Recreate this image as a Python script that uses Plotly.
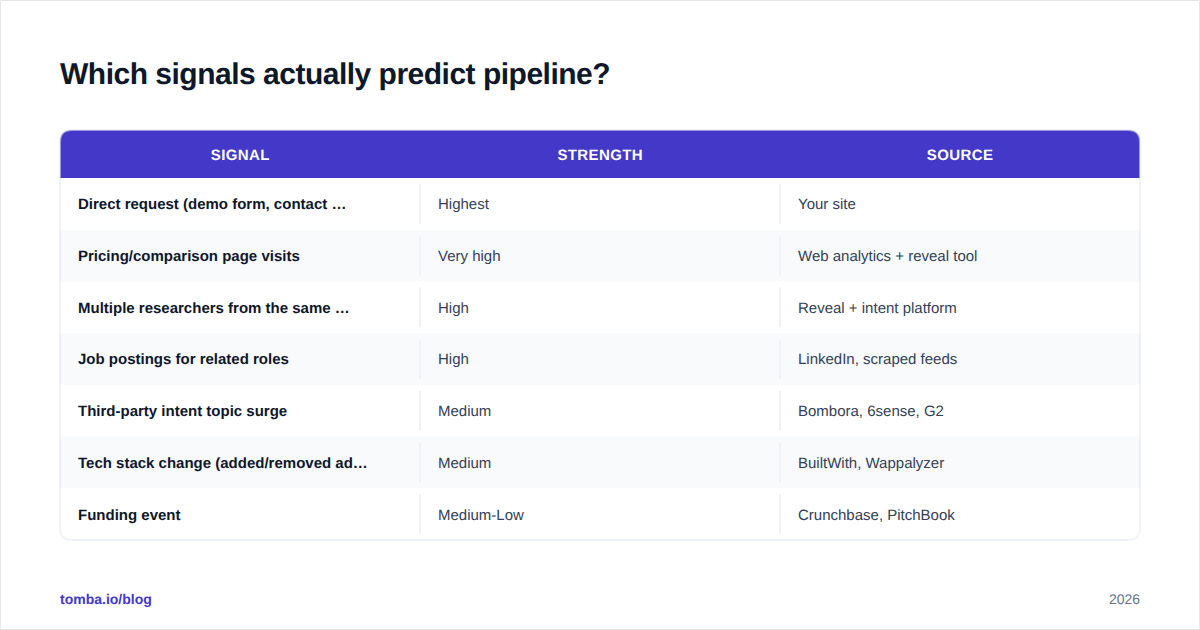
import plotly.graph_objects as go

title = "Which signals actually predict pipeline?"
headers = ["SIGNAL", "STRENGTH", "SOURCE"]
signals = [
    "Direct request (demo form, contact …",
    "Pricing/comparison page visits",
    "Multiple researchers from the same …",
    "Job postings for related roles",
    "Third-party intent topic surge",
    "Tech stack change (added/removed ad…",
    "Funding event",
]
strengths = ["Highest", "Very high", "High", "High", "Medium", "Medium", "Medium-Low"]
sources = [
    "Your site",
    "Web analytics + reveal tool",
    "Reveal + intent platform",
    "LinkedIn, scraped feeds",
    "Bombora, 6sense, G2",
    "BuiltWith, Wappalyzer",
    "Crunchbase, PitchBook",
]
footer_left = "tomba.io/blog"
footer_right = "2026"

W, H = 1200, 630
FONT = "Liberation Sans"
INDIGO = "#4338ca"
LEFT, RIGHT, TOP, BOTTOM = 60, 1140, 130, 540
HEAD_H = 48
RADIUS = 12
col_w = (RIGHT - LEFT) / 3
row_h = (BOTTOM - TOP - HEAD_H) / len(signals)


def rect(x0, y0, x1, y1, color):
    return dict(type="rect", x0=x0, y0=y0, x1=x1, y1=y1, fillcolor=color,
                line_width=0, layer="below")


def label(x, y, text, size, color, anchor="left", bold=False, xshift=0):
    if bold:
        text = f"<b>{text}</b>"
    return dict(x=x, y=y, text=text, showarrow=False, xanchor=anchor, yanchor="middle",
                borderpad=0, borderwidth=0, xshift=xshift,
                font=dict(family=FONT, size=size, color=color))


shapes = []
annotations = []

# page edge
shapes.append(dict(type="rect", x0=0.5, y0=0.5, x1=W - 0.5, y1=H - 0.5, fillcolor="white",
                   line=dict(color="#e5e7eb", width=1), layer="below"))

# striped rows, last one stays white so the rounded corner is clean
head_bottom = TOP + HEAD_H
for i in range(len(signals)):
    y0 = head_bottom + i * row_h
    if i % 2 == 1:
        shapes.append(rect(LEFT, y0, RIGHT, y0 + row_h, "#f8fafc"))
    for c in (1, 2):
        x = LEFT + c * col_w
        shapes.append(rect(x - 1, y0 + 6, x + 1, y0 + row_h - 6, "#f1f2f5"))

# header band with rounded top corners
r = RADIUS
shapes.append(dict(
    type="path",
    path=f"M{LEFT},{head_bottom} V{TOP + r} Q{LEFT},{TOP} {LEFT + r},{TOP} "
         f"H{RIGHT - r} Q{RIGHT},{TOP} {RIGHT},{TOP + r} V{head_bottom} Z",
    fillcolor="#4438c9", line_width=0, layer="below"))

# card outline goes over the header, the reference shows it as a pale line there
shapes.append(dict(
    type="path",
    path=f"M{LEFT + r},{TOP} H{RIGHT - r} Q{RIGHT},{TOP} {RIGHT},{TOP + r} "
         f"V{BOTTOM - r} Q{RIGHT},{BOTTOM} {RIGHT - r},{BOTTOM} "
         f"H{LEFT + r} Q{LEFT},{BOTTOM} {LEFT},{BOTTOM - r} "
         f"V{TOP + r} Q{LEFT},{TOP} {LEFT + r},{TOP} Z",
    line=dict(color="rgba(226,232,240,0.55)", width=2), layer="below"))

# spacing below shrinks the title around its centre, xshift puts it back on the left edge
annotations.append(label(LEFT, 73, title, 30, "#0f172a", bold=True, xshift=-10))

for c, h in enumerate(headers):
    annotations.append(label(LEFT + (c + 0.5) * col_w, head_bottom - HEAD_H / 2 + 0.5, h, 15,
                             "#ffffff", anchor="center", bold=True))

for i in range(len(signals)):
    y = head_bottom + (i + 0.5) * row_h - 0.1
    annotations.append(label(LEFT + 18, y, signals[i], 15, "#0f172a", bold=True))
    annotations.append(label(LEFT + col_w + 18, y, strengths[i], 15, "#334155"))
    annotations.append(label(LEFT + 2 * col_w + 18, y, sources[i], 15, "#334155"))

annotations.append(label(LEFT, 599, footer_left, 14, INDIGO, bold=True))
annotations.append(label(RIGHT, 599, footer_right, 14, "#64748b", anchor="right"))

fig = go.Figure()
fig.update_layout(
    width=W, height=H,
    margin=dict(l=0, r=0, t=0, b=0),
    paper_bgcolor="white", plot_bgcolor="white",
    xaxis=dict(range=[0, W], visible=False, fixedrange=True),
    yaxis=dict(range=[H, 0], visible=False, fixedrange=True),
    shapes=shapes, annotations=annotations, showlegend=False,
)

# plotly has no letter spacing option, so set it on the svg text
# also drop the default body margin of the page
# geometricPrecision gives the unhinted, softer glyphs of the reference
spacing = """
document.body.style.margin = '0';
document.querySelectorAll('.annotation-text').forEach(function (t) {
  var s = t.textContent;
  t.style.textRendering = 'geometricPrecision';
  if (s.indexOf('Which signals') === 0) t.style.letterSpacing = '-0.5px';
  if (s === 'SIGNAL' || s === 'STRENGTH' || s === 'SOURCE') t.style.letterSpacing = '0.4px';
});
"""
fig.write_html("out.html", post_script=spacing, config=dict(displayModeBar=False))
